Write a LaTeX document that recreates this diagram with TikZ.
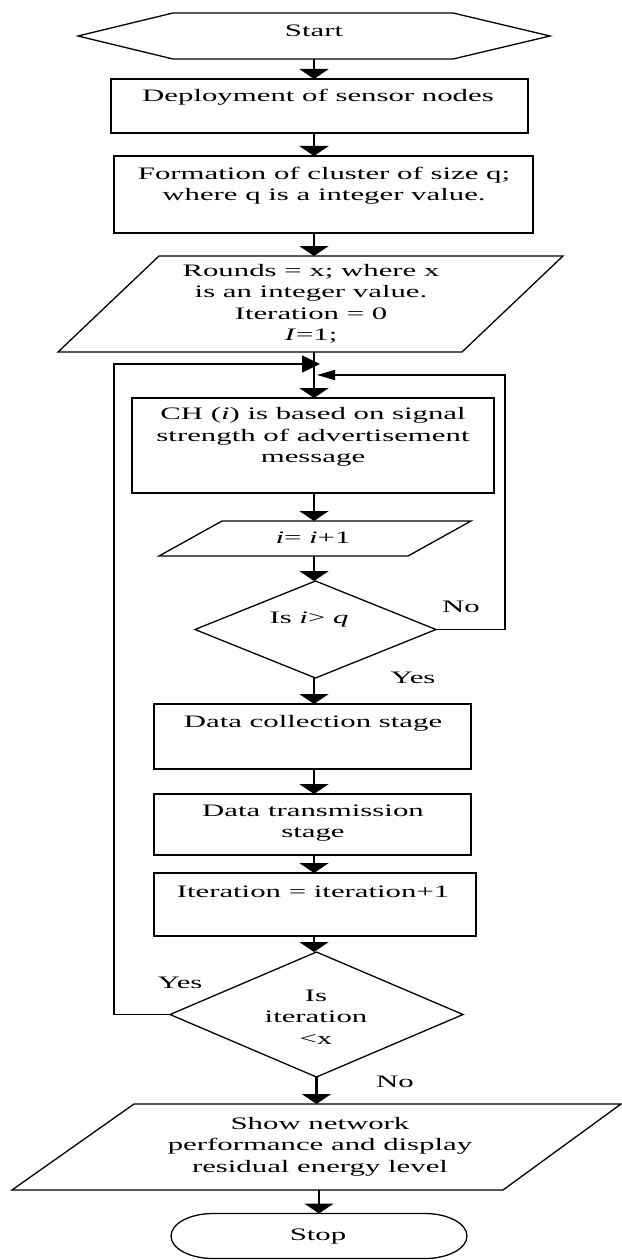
\documentclass[tikz,border=0pt]{standalone}
\usepackage{fontspec}
\setmainfont{Liberation Serif}
\usepackage{graphicx}
\usetikzlibrary{arrows.meta,shapes.geometric}
\newcommand{\wx}[1]{\scalebox{1.76}[1]{#1}}
\newcommand{\wl}[1]{\scalebox{1.76}[1]{\begin{tabular}{@{}c@{}}#1\end{tabular}}}
\begin{document}
\begin{tikzpicture}[x=1pt,y=-1pt,
  box/.style={draw, line width=1.3pt, rectangle, inner sep=0pt, outer sep=0pt},
  hull/.style={draw=none, rectangle, inner sep=0pt, outer sep=0pt},
  outline/.style={draw, line width=1.3pt, line join=miter},
  dia/.style={draw, line width=1.3pt, diamond, inner sep=0pt, outer sep=0pt},
  txt/.style={inner sep=0pt, font=\fontsize{17.5}{21.5}\selectfont},
  arr/.style={line width=2.7pt, -{Triangle[width=29pt,length=10pt]}},
  loopl/.style={line width=1.5pt}]
\useasboundingbox (0,0) rectangle (621,1260);
\coordinate (ax) at (314,0);
% shapes
\node[hull, minimum width=472pt, minimum height=46pt] (start) at (314,36) {};
\draw[outline] (start.west) -- ([xshift=95pt]start.north west) -- ([xshift=-97pt]start.north east)
  -- (start.east) -- ([xshift=-97pt]start.south east) -- ([xshift=95pt]start.south west) -- cycle;
\node[box, minimum width=417pt, minimum height=54pt] (dep) at (319.5,106) {};
\node[box, minimum width=419pt, minimum height=77pt] (form) at (323.5,194.5) {};
\node[hull, minimum width=505pt, minimum height=96pt] (rounds) at (310.5,304) {};
\draw[outline] ([xshift=101pt]rounds.north west) -- (rounds.north east)
  -- ([xshift=-101pt]rounds.south east) -- (rounds.south west) -- cycle;
\node[box, minimum width=362pt, minimum height=95pt] (ch) at (313,445.5) {};
\node[hull, minimum width=312pt, minimum height=35pt] (inc) at (315,538.5) {};
\draw[outline] ([xshift=63pt]inc.north west) -- (inc.north east)
  -- ([xshift=-63pt]inc.south east) -- (inc.south west) -- cycle;
\node[dia, minimum width=241pt, minimum height=97pt] (d1) at (315.5,629.5) {};
\node[box, minimum width=317pt, minimum height=65pt] (dc) at (312.5,736.5) {};
\node[box, minimum width=317pt, minimum height=61pt] (dt) at (312.5,824.5) {};
\node[box, minimum width=322pt, minimum height=63pt] (it) at (315,904.5) {};
\node[dia, minimum width=293pt, minimum height=125pt] (d2) at (316.5,1014.5) {};
\node[hull, minimum width=609pt, minimum height=86pt] (show) at (316.5,1147) {};
\draw[outline] ([xshift=122pt]show.north west) -- (show.north east)
  -- ([xshift=-118pt]show.south east) -- (show.south west) -- cycle;
\node[hull, minimum width=296pt, minimum height=45pt] (stop) at (319,1236) {};
\draw[outline] ([xshift=42pt]stop.north west) -- ([xshift=-42pt]stop.north east)
  arc[start angle=90, end angle=-90, x radius=42pt, y radius=22.5pt]
  -- ([xshift=42pt]stop.south west)
  arc[start angle=270, end angle=90, x radius=42pt, y radius=22.5pt] -- cycle;
% texts
\node[txt] (tstart) at (314,31) {\wx{Start}};
\node[txt] (tdep) at (318,97) {\wx{Deployment of sensor nodes}};
\node[txt] (tform) at (324,185.5) {\wl{Formation of cluster of size q;\\where q is a integer value.}};
\node[txt] (trounds) at (311,304) {\wl{Rounds = x; where x\\is an integer value.\\Iteration = 0\\\textit{I}=1;}};
\node[txt] (tch) at (313,437) {\wl{CH (\textit{i}) is based on signal\\strength of advertisement\\message}};
\node[txt] (tinc) at (313,538) {\wx{\textit{i}= \textit{i}+1}};
\node[txt] (td1) at (309,620) {\wx{Is \textit{i}> \textit{q}}};
\node[txt] (tdc) at (313,723) {\wx{Data collection stage}};
\node[txt] (tdt) at (313,822.5) {\wl{Data transmission\\stage}};
\node[txt] (tit) at (313,892) {\wx{Iteration = iteration+1}};
\node[txt] (td2) at (316,1018.5) {\wl{Is\\iteration\\\textless{}x}};
\node[txt] (tshow) at (320,1146.5) {\wl{Show network\\performance and display\\residual energy level}};
\node[txt] (tstop) at (318,1237) {\wx{Stop}};
% labels
\node[txt] (no1) at (461,607) {\wx{No}};
\node[txt] (yes1) at (413,678) {\wx{Yes}};
\node[txt] (yes2) at (180,983) {\wx{Yes}};
\node[txt] (no2) at (395,1082) {\wx{No}};
% connectors
\draw[arr] (ax |- start.south) -- (ax |- dep.north);
\draw[arr] (ax |- dep.south) -- (ax |- form.north);
\draw[arr] (ax |- form.south) -- (ax |- rounds.north);
\draw[arr] (ax |- rounds.south) -- (ax |- ch.north);
\draw[arr] (ax |- ch.south) -- (ax |- inc.north);
\draw[arr] (ax |- inc.south) -- (ax |- d1.north);
\draw[arr] (ax |- d1.south) -- (ax |- dc.north);
\draw[arr] (ax |- dc.south) -- (ax |- dt.north);
\draw[arr] (ax |- dt.south) -- (ax |- it.north);
\draw[arr] (ax |- it.south) -- (ax |- d2.north);
\draw[arr] (d2.south) -- (d2.south |- show.north);
\draw[arr] (stop.north |- show.south) -- (stop.north);
% loops
\coordinate (rj) at (317,375);
\coordinate (lj) at (320,364);
\draw[loopl, -{Triangle[width=10pt,length=18pt]}] (d1.east) -| (505,375) -- (rj);
\draw[loopl, -{Triangle[width=17pt,length=18pt]}] (d2.west) -| (114,364) -- (lj);
\end{tikzpicture}
\end{document}
